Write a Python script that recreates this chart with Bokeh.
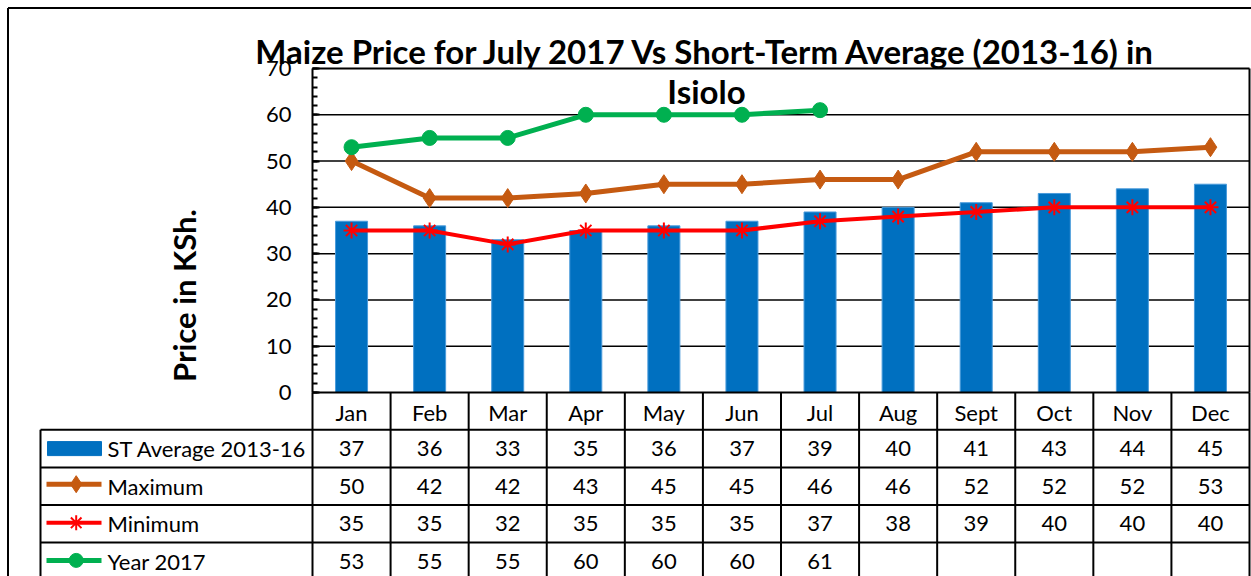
import math
from bokeh.plotting import figure
from bokeh.models import Range1d, LinearAxis, SingleIntervalTicker, FixedTicker, ColumnDataSource
from bokeh.core.properties import value
from bokeh.embed import file_html
from bokeh.resources import INLINE

# ---------------- data ----------------
months = ["Jan", "Feb", "Mar", "Apr", "May", "Jun", "Jul", "Aug", "Sept", "Oct", "Nov", "Dec"]
st_average = [37, 36, 33, 35, 36, 37, 39, 40, 41, 43, 44, 45]
maximum = [50, 42, 42, 43, 45, 45, 46, 46, 52, 52, 52, 53]
minimum = [35, 35, 32, 35, 35, 35, 37, 38, 39, 40, 40, 40]
year_2017 = [53, 55, 55, 60, 60, 60, 61]
series_names = ["ST Average 2013-16", "Maximum", "Minimum", "Year 2017"]
title_line1 = "Maize Price for July 2017 Vs Short-Term Average (2013-16) in"
title_line2 = "Isiolo"
y_title = "Price in KSh."
y_max = 70
y_step = 10

# ---------------- layout helpers (page pixels -> data) ----------------
W, H = 1251, 576
OFF = 0
PL, PR = 312.0, 1249.0   # plot area left / right (page px)
PB, PT = 392.0, 68.0     # y position of 0 and of 70 (page px)
CW = (PR - PL) / len(months)
UPX = (PB - PT) / y_max


def fx(px):
    return (px - PL) / CW - 0.5


def fy(py):
    return (PB - py) / UPX


FONT = value("Lato")
BLUE = "#0070C0"
ORANGE = "#C55A11"
RED = "#FF0000"
GREEN = "#00B050"

p = figure(width=W, height=H,
           x_range=Range1d(fx(OFF), fx(OFF + W)),
           y_range=Range1d(fy(OFF + H), fy(OFF)),
           output_backend="svg", toolbar_location=None,
           x_axis_location=None, y_axis_location=None, min_border=0)
p.outline_line_color = None
p.background_fill_color = "white"
p.border_fill_color = "white"
for g in p.grid:
    g.visible = False

xs = list(range(len(months)))
x_left, x_right = -0.5, len(months) - 0.5

# outer chart border (left & top visible)
p.line([fx(7.5), fx(7.5)], [fy(7.5), fy(OFF + H + 5)], line_color="black", line_width=2)
p.line([fx(7.5), fx(OFF + W + 5)], [fy(7.5), fy(7.5)], line_color="black", line_width=2)

# gridlines
grid_vals = list(range(y_step, y_max, y_step))
p.segment(x0=[x_left] * len(grid_vals), x1=[x_right] * len(grid_vals), y0=grid_vals, y1=grid_vals,
          line_color="black", line_width=1.5)
# plot area top and right border
p.line([x_left, x_right], [y_max, y_max], line_color="black", line_width=2)
p.line([x_right, x_right], [0, y_max], line_color="black", line_width=2)

# bars
src_bar = ColumnDataSource(dict(x=xs, top=st_average))
p.vbar(x="x", top="top", bottom=0, width=0.41, source=src_bar,
       fill_color=BLUE, line_color="#4A9BDB", line_width=1)

# lines
p.line(xs, maximum, line_color=ORANGE, line_width=5)
p.scatter(xs, maximum, marker="diamond", size=19, fill_color=ORANGE, line_color=ORANGE)
p.line(xs, minimum, line_color=RED, line_width=4)
p.scatter(xs, minimum, marker="asterisk", size=16, line_color=RED, line_width=2)
p.line(xs[:len(year_2017)], year_2017, line_color=GREEN, line_width=5)
p.scatter(xs[:len(year_2017)], year_2017, marker="circle", size=15, fill_color=GREEN, line_color=GREEN)

# axes
yax = LinearAxis(fixed_location=x_left, bounds=(0, y_max),
                 ticker=SingleIntervalTicker(interval=y_step, num_minor_ticks=5))
yax.axis_line_color = "black"
yax.axis_line_width = 2
yax.major_tick_in = 7
yax.major_tick_out = 0
yax.minor_tick_in = 5
yax.minor_tick_out = 0
yax.major_tick_line_width = 2
yax.minor_tick_line_width = 2
yax.major_label_standoff = 21
yax.major_label_text_font = "Lato"
yax.major_label_text_font_size = "22px"
yax.major_label_text_color = "black"
p.add_layout(yax, "left")

xax = LinearAxis(fixed_location=0, bounds=(x_left, x_right), ticker=FixedTicker(ticks=xs),
                 major_label_overrides={i: m for i, m in enumerate(months)})
xax.axis_line_color = "black"
xax.axis_line_width = 2
xax.major_tick_in = 0
xax.major_tick_out = 0
xax.minor_tick_in = 0
xax.minor_tick_out = 0
xax.major_label_standoff = 6
xax.major_label_text_font = "Lato"
xax.major_label_text_font_size = "22px"
xax.major_label_text_color = "black"
p.add_layout(xax, "below")

# ---------------- data table ----------------
TL = 40.0                 # table legend column left (page px)
header_bottom = 429.3
RH = 37.6
row_tops = [header_bottom + k * RH for k in range(len(series_names))]
row_centers = [t + RH / 2 for t in row_tops]
table_bottom = header_bottom + len(series_names) * RH

# horizontal table lines
hl_y = [header_bottom + k * RH for k in range(len(series_names) + 1)]
p.segment(x0=[fx(TL)] * len(hl_y), x1=[x_right] * len(hl_y), y0=[fy(v) for v in hl_y], y1=[fy(v) for v in hl_y],
          line_color="black", line_width=2)
# vertical table lines
vx = [x_left + k for k in range(len(months) + 1)]
p.segment(x0=vx, x1=vx, y0=[0] * len(vx), y1=[fy(table_bottom)] * len(vx), line_color="black", line_width=2)
p.line([fx(TL), fx(TL)], [fy(header_bottom), fy(table_bottom)], line_color="black", line_width=2)

rows = [st_average, maximum, minimum, year_2017]
tx, ty, tt = [], [], []
for r, vals in enumerate(rows):
    for i, v in enumerate(vals):
        tx.append(xs[i])
        ty.append(fy(row_centers[r]))
        tt.append(str(v))
p.text(x=tx, y=ty, text=tt, text_font=FONT, text_font_size="22px", text_color="black",
       text_align="center", text_baseline="middle")

# legend keys in table
kx0, kx1, kxm = fx(46), fx(101), fx(75.7)
p.quad(left=[fx(47)], right=[fx(101)], bottom=[fy(row_centers[0] + 7)], top=[fy(row_centers[0] - 7)],
       fill_color=BLUE, line_color=BLUE)
p.line([kx0, kx1], [fy(row_centers[1] - 2)] * 2, line_color=ORANGE, line_width=5)
p.scatter([kxm], [fy(row_centers[1] - 2)], marker="diamond", size=17, fill_color=ORANGE, line_color=ORANGE)
p.line([kx0, kx1], [fy(row_centers[2] - 1)] * 2, line_color=RED, line_width=4)
p.scatter([kxm], [fy(row_centers[2] - 1)], marker="asterisk", size=15, line_color=RED, line_width=2)
p.line([kx0, kx1], [fy(row_centers[3] - 1)] * 2, line_color=GREEN, line_width=5)
p.scatter([kxm], [fy(row_centers[3] - 1)], marker="circle", size=14, fill_color=GREEN, line_color=GREEN)
p.text(x=[fx(107)] * len(series_names), y=[fy(c) for c in row_centers], text=series_names,
       text_font=FONT, text_font_size="22px", text_color="black", text_align="left", text_baseline="middle")

# ---------------- titles ----------------
p.text(x=[fx(706)], y=[fy(50)], text=[title_line1], text_font=FONT, text_font_size="33px",
       text_font_style="bold", text_color="black", text_align="center", text_baseline="middle")
p.text(x=[fx(706)], y=[fy(90)], text=[title_line2], text_font=FONT, text_font_size="33px",
       text_font_style="bold", text_color="black", text_align="center", text_baseline="middle")
p.text(x=[fx(183.5)], y=[fy(295)], text=[y_title], angle=math.pi / 2, text_font=FONT, text_font_size="31px",
       text_font_style="bold", text_color="black", text_align="center", text_baseline="middle")

open("out.html", "w").write(file_html(p, INLINE))
